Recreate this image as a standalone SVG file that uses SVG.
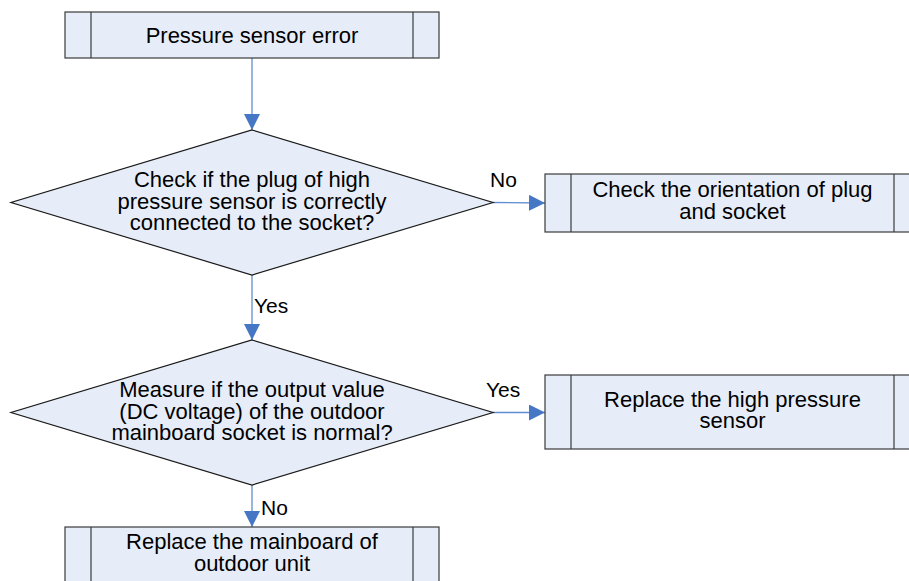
<svg xmlns="http://www.w3.org/2000/svg" width="909" height="581" viewBox="0 0 909 581">
<style>
.box{fill:#e7edf8;stroke:#3a3a3a;stroke-width:1.2}
.inner{stroke:#3a3a3a;stroke-width:1.2}
.dia{fill:#e7edf8;stroke:#1a1a1a;stroke-width:1.2}
text{font-family:"Liberation Sans",Arial,sans-serif;fill:#000}
.t{font-size:22px;text-anchor:middle}
.lbl{font-size:21px}
.v{stroke:#98b7df;stroke-width:2;fill:none}
.h{stroke:#5f8fd2;stroke-width:1.4;fill:none}
</style>
<defs>
<marker id="ah" markerUnits="userSpaceOnUse" markerWidth="16" markerHeight="16" refX="15" refY="7.5" orient="auto" viewBox="0 0 15 15">
<path d="M0,0 L15,7.5 L0,15 z" fill="#4677c4"/>
</marker>
</defs>
<rect width="909" height="581" fill="#ffffff"/>
<g id="connectors">
<line class="v" x1="252" y1="58" x2="252" y2="130" marker-end="url(#ah)"/>
<line class="v" x1="252" y1="275" x2="252" y2="340" marker-end="url(#ah)"/>
<line class="v" x1="252" y1="485" x2="252" y2="527" marker-end="url(#ah)"/>
<line class="h" x1="493" y1="202.5" x2="545" y2="203" marker-end="url(#ah)"/>
<line class="h" x1="493" y1="412.5" x2="545" y2="412.5" marker-end="url(#ah)"/>
<text class="lbl" x="490" y="187">No</text>
<text class="lbl" x="254" y="313">Yes</text>
<text class="lbl" x="486" y="397">Yes</text>
<text class="lbl" x="261" y="515">No</text>
</g>
<g id="start">
<rect class="box" x="65" y="12" width="374" height="46"/>
<line class="inner" x1="91" y1="12" x2="91" y2="58"/>
<line class="inner" x1="413" y1="12" x2="413" y2="58"/>
<text class="t" x="252" y="42.5">Pressure sensor error</text>
</g>
<g id="decision1">
<polygon class="dia" points="252,130 493,202.5 252,275 11,202.5"/>
<text class="t" x="252" y="187">Check if the plug of high</text>
<text class="t" x="252" y="208.5">pressure sensor is correctly</text>
<text class="t" x="252" y="230">connected to the socket?</text>
</g>
<g id="check-orientation">
<rect class="box" x="545" y="174" width="380" height="58"/>
<line class="inner" x1="571" y1="174" x2="571" y2="232"/>
<line class="inner" x1="894" y1="174" x2="894" y2="232"/>
<text class="t" x="732.5" y="197">Check the orientation of plug</text>
<text class="t" x="732.5" y="219">and socket</text>
</g>
<g id="decision2">
<polygon class="dia" points="252,340 493,412.5 252,485 11,412.5"/>
<text class="t" x="252" y="397">Measure if the output value</text>
<text class="t" x="252" y="418.5">(DC voltage) of the outdoor</text>
<text class="t" x="252" y="440">mainboard socket is normal?</text>
</g>
<g id="replace-sensor">
<rect class="box" x="545" y="375" width="380" height="74"/>
<line class="inner" x1="571" y1="375" x2="571" y2="449"/>
<line class="inner" x1="894" y1="375" x2="894" y2="449"/>
<text class="t" x="732.5" y="407">Replace the high pressure</text>
<text class="t" x="732.5" y="428">sensor</text>
</g>
<g id="replace-mainboard">
<rect class="box" x="65" y="527" width="374" height="80"/>
<line class="inner" x1="91" y1="527" x2="91" y2="607"/>
<line class="inner" x1="413" y1="527" x2="413" y2="607"/>
<text class="t" x="252" y="548.5">Replace the mainboard of</text>
<text class="t" x="252" y="570.5">outdoor unit</text>
</g>
</svg>
